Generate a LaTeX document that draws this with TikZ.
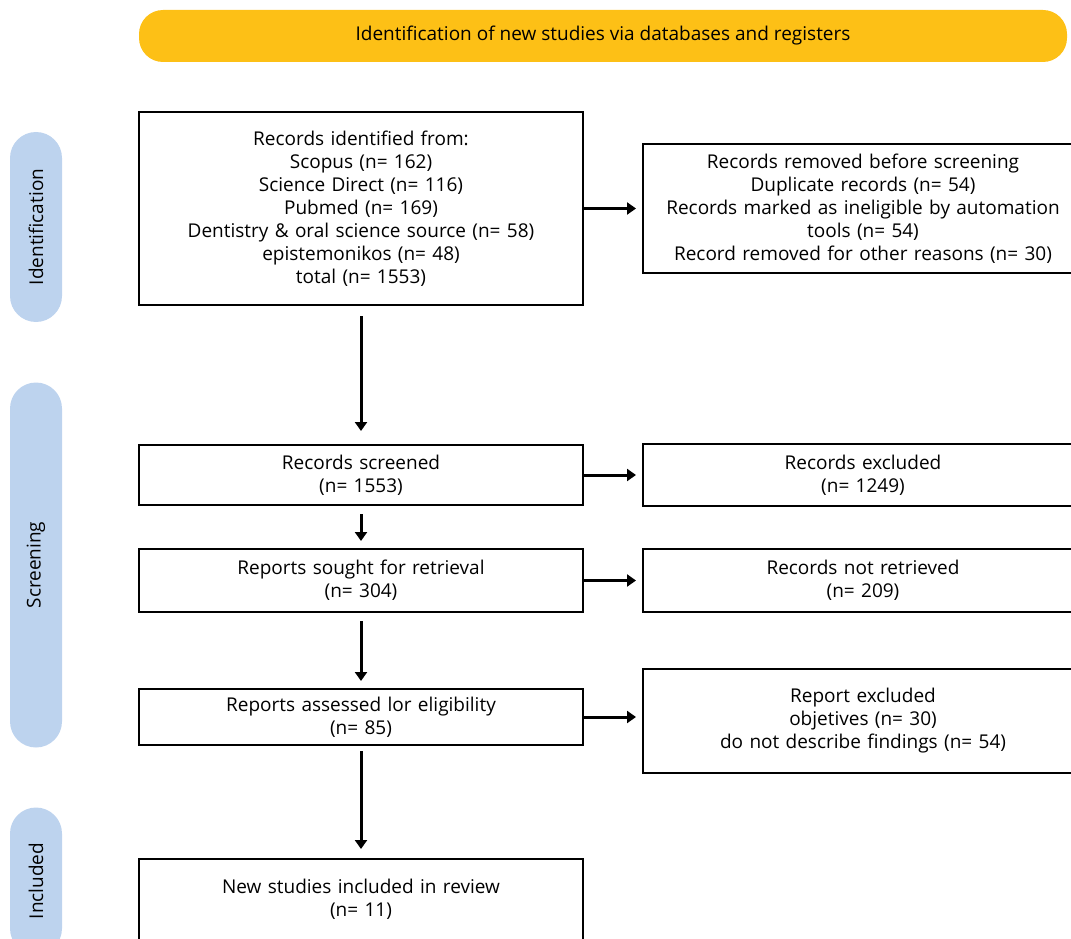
\documentclass[tikz,border=0pt]{standalone}
\usepackage{fontspec}
\setmainfont{Open Sans}
\usetikzlibrary{arrows.meta,positioning,shapes}
\tikzset{
  font={\fontsize{19pt}{23pt}\selectfont}}
\definecolor{banner_yellow}{HTML}{FDC016}
\definecolor{phase_blue}{HTML}{BDD3EE}

\begin{document}
\begin{tikzpicture}[x=1pt,y=-1pt,
    block_left/.style ={rectangle, draw=black, line width=2pt, fill=white,
      text width=444pt, align=center, inner sep=0pt, outer sep=0pt},
    block_right/.style ={rectangle, draw=black, line width=2pt, fill=white,
      text width=424pt, align=center, inner xsep=8pt, inner ysep=0pt, outer sep=0pt},
    block_phase/.style ={rectangle, draw=none, fill=phase_blue, rotate=90,
      rounded corners=26pt, minimum height=52pt, inner sep=0pt},
    block_banner/.style ={rectangle, draw=none, fill=banner_yellow,
      rounded corners=24pt, minimum width=928pt, minimum height=52pt},
    paths_down/.style={black, draw, line width=3pt, shorten <=11pt, shorten >=14pt,
      arrows={-Triangle[width=12pt, length=9pt]}},
    paths_right/.style={black, draw, line width=3pt, shorten >=7pt,
      arrows={-Triangle[width=12pt, length=9pt]}}]
    \clip (0,0) rectangle (1071,939);
    % banner and phase bars
    \node[block_banner] (banner) at (603,36) {Identification of new studies via databases and registers};
    \node[block_phase, minimum width=190pt] (phase_ident) at (36,227) {Identification};
    \node[block_phase, minimum width=365pt] (phase_screen) at (36,565) {Screening};
    \node[block_phase, minimum width=147pt] (phase_incl) at (36,881) {Included};
    % left column
    \node[block_left, minimum height=193pt, anchor=north west] (records) at (139,112)
      {Records identified from:\\Scopus (n= 162)\\Science Direct (n= 116)\\Pubmed (n= 169)\\
       Dentistry \& oral science source (n= 58)\\epistemonikos (n= 48)\\total (n= 1553)};
    \node[block_left, minimum height=60pt, below=140pt of records] (screened)
      {Records screened\\(n= 1553)};
    \node[block_left, minimum height=63pt, below=44pt of screened] (sought)
      {Reports sought for retrieval\\(n= 304)};
    \node[block_left, minimum height=56pt, below=77pt of sought] (assessed)
      {Reports assessed lor eligibility\\(n= 85)};
    \node[block_left, minimum height=100pt, below=114pt of assessed] (included)
      {New studies included in review\\(n= 11)\\~};
    % right column
    \node[block_right, minimum height=128pt, right=60pt of records] (removed)
      {Records removed before screening\\Duplicate records (n= 54)\\
       Records marked as ineligible by automation\\tools (n= 54)\\
       Record removed for other reasons (n= 30)};
    \node[block_right, minimum height=62pt, right=60pt of screened] (excluded)
      {Records excluded\\(n= 1249)};
    \node[block_right, minimum height=63pt, right=60pt of sought] (not_retrieved)
      {Records not retrieved\\(n= 209)};
    \node[block_right, minimum height=104pt, right=60pt of assessed, yshift=-4pt] (report_excluded)
      {Report excluded\\objetives (n= 30)\\do not describe findings (n= 54)};
    % connecting nodes with paths
    \path[paths_down] (records) -- (screened);
    \path[paths_down, shorten <=9pt, shorten >=8pt] (screened) -- (sought);
    \path[paths_down, shorten <=9pt, shorten >=8pt] (sought) -- (assessed);
    \path[paths_down, shorten <=6pt, shorten >=10pt] (assessed) -- (included);
    \path[paths_right] (records) -- (removed);
    \path[paths_right] (screened) -- (excluded);
    \path[paths_right] (sought) -- (not_retrieved);
    \path[paths_right] (assessed.east) -- (assessed.east -| report_excluded.west);
\end{tikzpicture}
\end{document}
